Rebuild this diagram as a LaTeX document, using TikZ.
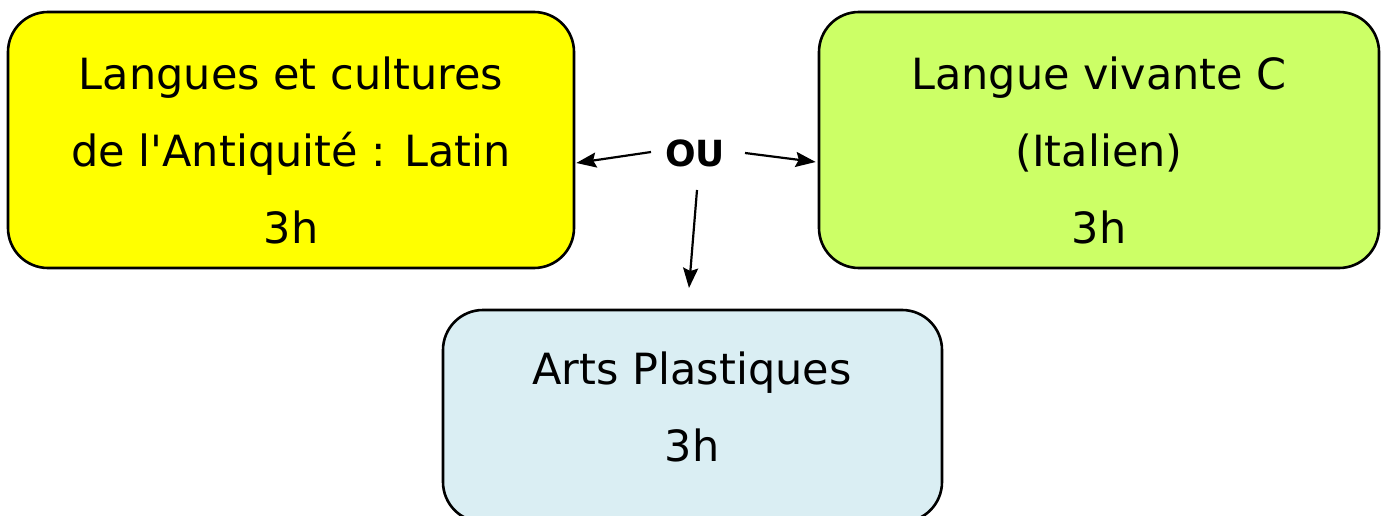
\documentclass[tikz,border=0pt]{standalone}
\usepackage{fontspec}
\setmainfont{DejaVu Sans}
\usetikzlibrary{arrows.meta}
\definecolor{yel}{HTML}{FFFF00}
\definecolor{lgreen}{HTML}{CCFF66}
\definecolor{lblue}{HTML}{DAEEF3}
\begin{document}
\begin{tikzpicture}[x=1pt,y=-1pt,
  box/.style={draw=black, line width=2.6pt, rounded corners=40pt, inner sep=0pt},
  txt/.style={align=center, font=\fontsize{43}{77}\selectfont, inner sep=0pt},
  arr/.style={-{Stealth[length=20pt,width=15pt,inset=3pt]}, line width=2.2pt}]
\useasboundingbox (0,0) rectangle (1387,516);
\node[box, fill=yel, minimum width=566pt, minimum height=256pt] (latin) at (291,140) {};
\node[box, fill=lgreen, minimum width=560pt, minimum height=256pt] (ital) at (1099,140) {};
\node[box, fill=lblue, minimum width=499pt, minimum height=212pt] (arts) at (692.5,416) {};
\node[txt] (latintxt) at (291,150) {Langues et cultures\\de l\textquotesingle Antiquité : Latin\\3h};
\node[txt] (italtxt) at (1099,150) {Langue vivante C\\(Italien)\\3h};
\node[txt] (artstxt) at (692,407) {Arts Plastiques\\3h};
\node[font=\fontsize{36}{40}\selectfont\bfseries, inner sep=0pt] (ou) at (695,153) {OU};
\draw[arr] ([shift={(-44,-1)}]ou.center) -- ([shift={(1,23)}]latin.east);
\draw[arr] ([shift={(50,0)}]ou.center) -- ([shift={(-2,22)}]ital.west);
\draw[arr] ([shift={(2,37)}]ou.center) -- ([shift={(-6,135)}]ou.center);
\end{tikzpicture}
\end{document}
